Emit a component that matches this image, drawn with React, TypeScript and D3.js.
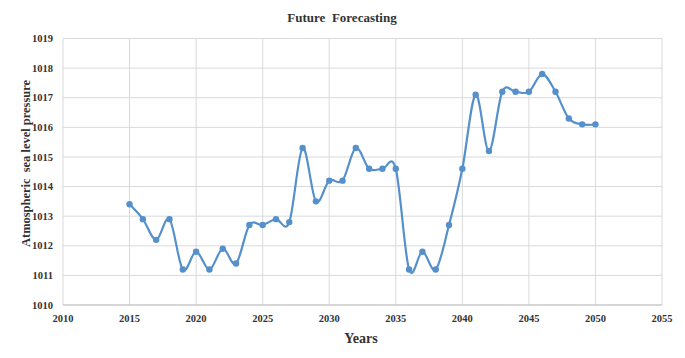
import React from "react";
import * as d3 from "d3";

const years = [2015,2016,2017,2018,2019,2020,2021,2022,2023,2024,2025,2026,2027,2028,2029,2030,2031,2032,2033,2034,2035,2036,2037,2038,2039,2040,2041,2042,2043,2044,2045,2046,2047,2048,2049,2050];
const pressure = [1013.4,1012.9,1012.2,1012.9,1011.2,1011.8,1011.2,1011.9,1011.4,1012.7,1012.7,1012.9,1012.8,1015.3,1013.5,1014.2,1014.2,1015.3,1014.6,1014.6,1014.6,1011.2,1011.8,1011.2,1012.7,1014.6,1017.1,1015.2,1017.2,1017.2,1017.2,1017.8,1017.2,1016.3,1016.1,1016.1];
const xTicks = [2010,2015,2020,2025,2030,2035,2040,2045,2050,2055];
const yTicks = [1010,1011,1012,1013,1014,1015,1016,1017,1018,1019];

const W = 685, H = 358;
const left = 63, right = 662, top = 38.5, bottom = 305;

export default function App() {
  const x = d3.scaleLinear().domain([2010, 2055]).range([left, right]);
  const y = d3.scaleLinear().domain([1010, 1019]).range([bottom, top]);
  const data = years.map((yr, i) => ({ yr, v: pressure[i] }));
  const line = d3.line<{ yr: number; v: number }>()
    .x(d => x(d.yr)).y(d => y(d.v))
    .curve(d3.curveCardinal.tension(0));
  const font = "'Liberation Serif', 'Times New Roman', serif";
  const color = "#5590cc";
  const txt = "#333";
  return (
    <svg width={W} height={H} style={{ position: "absolute", left: 0, top: 0, background: "#fff" }} fontFamily={font}>
      <rect x={0} y={0} width={W} height={H} fill="#fff" />
      {xTicks.map(t => (
        <line key={"gx" + t} x1={x(t)} x2={x(t)} y1={top} y2={bottom} stroke="#d9d9d9" strokeWidth={1} />
      ))}
      {yTicks.map(t => (
        <line key={"gy" + t} x1={left} x2={right} y1={y(t)} y2={y(t)} stroke="#d9d9d9" strokeWidth={1} />
      ))}
      <line x1={left} x2={right} y1={bottom} y2={bottom} stroke="#bfbfbf" strokeWidth={1.2} />
      {yTicks.map(t => (
        <text key={"ty" + t} x={53} y={y(t)} dy="0.35em" textAnchor="end" fontSize={10.5} fontWeight="bold" fill={txt}>{t}</text>
      ))}
      {xTicks.map(t => (
        <text key={"tx" + t} x={x(t)} y={322} textAnchor="middle" fontSize={10.5} fontWeight="bold" fill={txt}>{t}</text>
      ))}
      <path d={line(data) || ""} fill="none" stroke={color} strokeWidth={2.2} />
      {data.map(d => (
        <circle key={d.yr} cx={x(d.yr)} cy={y(d.v)} r={3.2} fill={color} />
      ))}
      <text x={342} y={21.5} textAnchor="middle" fontSize={13} fontWeight="bold" fill={txt} style={{ whiteSpace: "pre" }} xmlSpace="preserve">Future  Forecasting</text>
      <text x={361} y={343} textAnchor="middle" fontSize={14} fontWeight="bold" fill={txt}>Years</text>
      <text transform={`translate(29.5,163.5) rotate(-90)`} textAnchor="middle" fontSize={13.5} fontWeight="bold" fill={txt} textLength={167} lengthAdjust="spacingAndGlyphs" style={{ whiteSpace: "pre" }} xmlSpace="preserve">Atmospheric  sea level pressure</text>
    </svg>
  );
}
